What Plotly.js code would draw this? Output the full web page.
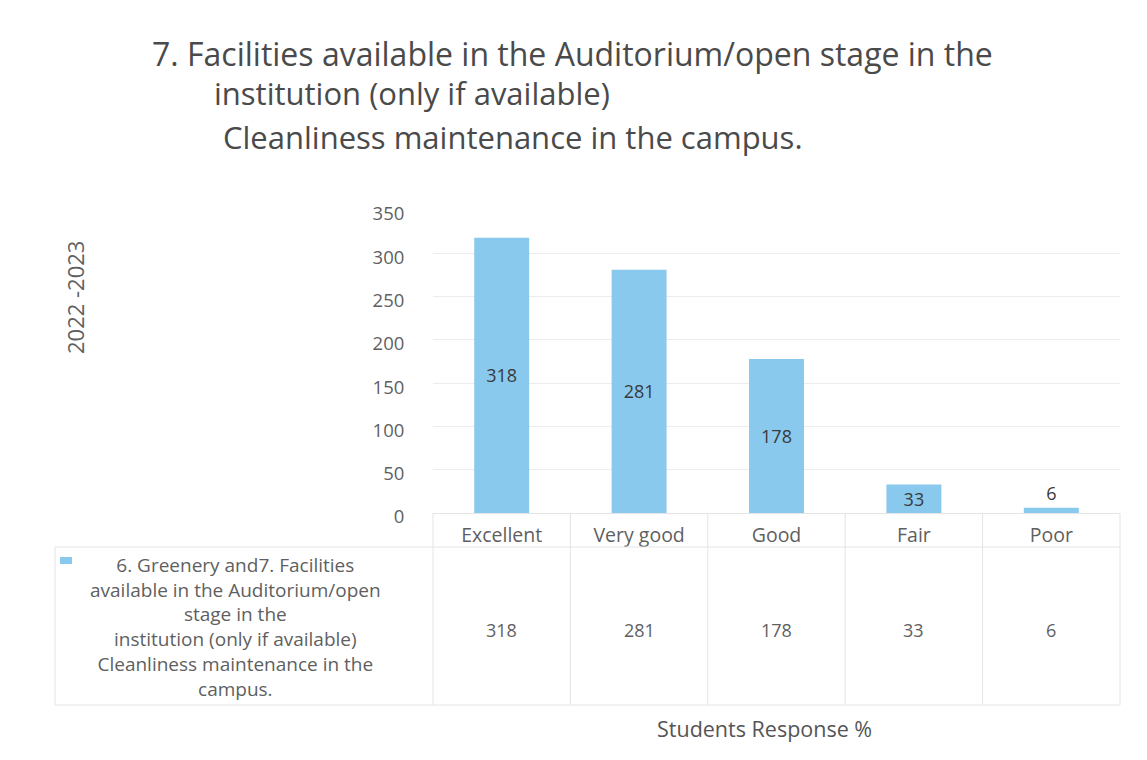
<!DOCTYPE html>
<html>
<head>
<meta charset="utf-8">
<script src="https://cdn.plot.ly/plotly-3.0.1.min.js"></script>
<style>html,body{margin:0;padding:0;background:#fff;}#chart{width:1147px;height:760px;}</style>
</head>
<body>
<div id="chart"></div>
<script>
// ---- data ----
const categories = ["Excellent", "Very good", "Good", "Fair", "Poor"];
const responses = [318, 281, 178, 33, 6];
const yTicks = [0, 50, 100, 150, 200, 250, 300, 350];
const seriesName = "6. Greenery and7. Facilities<br>available in the Auditorium/open<br>stage in the<br>institution (only if available)<br>Cleanliness maintenance in the<br>campus.";
const titleLines = [
  "7. Facilities available in the Auditorium/open stage in the",
  "institution (only if available)",
  "Cleanliness maintenance in the campus."
];
const yTitle = "2022 -2023";
const xTitle = "Students Response %";

// ---- style ----
const FONT = "Open Sans, Noto Sans, Liberation Sans, sans-serif";
const BAR = "#89C9EE";
const TXT = "#5f5f5f";
const GRID = "#ececec";

const W = 1147, H = 760;
const L = 433, R = 27, T = 210, B = 247;
const plotW = W - L - R, plotH = H - T - B;
const px = x => (x - L) / plotW;          // pixel -> paper x
const py = y => (H - B - y) / plotH;      // pixel -> paper y

const trace = {
  type: "bar",
  x: categories,
  y: responses,
  name: seriesName,
  marker: {color: BAR},
  text: responses.map(String),
  textposition: responses.map(v => v > 20 ? "inside" : "outside"),
  insidetextanchor: "middle",
  textangle: 0,
  constraintext: "none",
  textfont: {family: FONT, size: 18, color: "#3a3a3a"},
  outsidetextfont: {family: FONT, size: 18, color: "#3a3a3a"},
  cliponaxis: false,
  hoverinfo: "x+y"
};

const TFONT = {family: FONT, size: 31, color: "#4a4a4a"};
const annotations = [];
// title lines 2 and 3
annotations.push({xref: "paper", yref: "paper", x: px(212), y: py(93), xanchor: "left", yanchor: "middle",
  text: titleLines[1], showarrow: false, font: TFONT});
annotations.push({xref: "paper", yref: "paper", x: px(221), y: py(137), xanchor: "left", yanchor: "middle",
  text: titleLines[2], showarrow: false, font: TFONT});
// y axis title
annotations.push({xref: "paper", yref: "paper", x: px(75), y: py(298), xanchor: "center", yanchor: "middle",
  text: yTitle, textangle: -90, showarrow: false, font: {family: FONT, size: 22, color: TXT}});
// x axis title
annotations.push({xref: "paper", yref: "paper", x: px(764), y: py(728), xanchor: "center", yanchor: "middle",
  text: xTitle, showarrow: false, font: {family: FONT, size: 21.5, color: "#555"}});
// legend text (data table row header)
annotations.push({xref: "paper", yref: "paper", x: px(235), y: py(627), xanchor: "center", yanchor: "middle",
  text: seriesName, align: "center", showarrow: false, font: {family: FONT, size: 19, color: TXT}});
// data table values
categories.forEach((c, i) => {
  annotations.push({xref: "x", yref: "paper", x: c, y: py(630), xanchor: "center", yanchor: "middle",
    text: String(responses[i]), showarrow: false, font: {family: FONT, size: 18, color: TXT}});
});

const shapes = [];
const line = {color: "#e4e4e4", width: 1};
// horizontal table lines
shapes.push({type: "line", xref: "paper", yref: "paper", x0: px(55), x1: 1, y0: py(547), y1: py(547), line});
shapes.push({type: "line", xref: "paper", yref: "paper", x0: px(55), x1: 1, y0: py(705), y1: py(705), line});
// vertical table lines
shapes.push({type: "line", xref: "paper", yref: "paper", x0: px(55), x1: px(55), y0: py(547), y1: py(705), line});
shapes.push({type: "line", xref: "paper", yref: "paper", x0: 0, x1: 0, y0: 0, y1: py(705), line});
shapes.push({type: "line", xref: "paper", yref: "paper", x0: 1, x1: 1, y0: 0, y1: py(705), line});
for (let i = 0; i < categories.length - 1; i++) {
  shapes.push({type: "line", xref: "x", yref: "paper", x0: i + 0.5, x1: i + 0.5, y0: 0, y1: py(705), line});
}
// legend key
shapes.push({type: "rect", xref: "paper", yref: "paper", x0: px(60), x1: px(72), y0: py(564), y1: py(557),
  fillcolor: BAR, line: {width: 0}});

const layout = {
  width: W, height: H,
  margin: {l: L, r: R, t: T, b: B, pad: 0},
  paper_bgcolor: "#fff", plot_bgcolor: "#fff",
  showlegend: false,
  bargap: 0.6,
  title: {text: titleLines[0], xref: "container", yref: "container", x: 152 / W, xanchor: "left",
    y: 1 - 55 / H, yanchor: "middle", font: {family: FONT, size: 32, color: "#4a4a4a"}},
  xaxis: {
    type: "category", range: [-0.5, categories.length - 0.5],
    showgrid: false, zeroline: false, showline: true, linecolor: "#e4e4e4", linewidth: 1,
    ticks: "outside", ticklen: 5, tickcolor: "rgba(0,0,0,0)",
    tickfont: {family: FONT, size: 19.5, color: TXT}, fixedrange: true
  },
  yaxis: {
    range: [0, 350], tickvals: yTicks, ticktext: yTicks.map(String),
    showgrid: true, gridcolor: GRID, gridwidth: 1, zeroline: false, showline: false,
    ticks: "outside", ticklen: 24, tickcolor: "rgba(0,0,0,0)", ticklabelshift: 4,
    tickfont: {family: FONT, size: 18.5, color: TXT}, fixedrange: true
  },
  annotations, shapes
};

Plotly.newPlot("chart", [trace], layout, {displayModeBar: false, staticPlot: true});
</script>
</body>
</html>
